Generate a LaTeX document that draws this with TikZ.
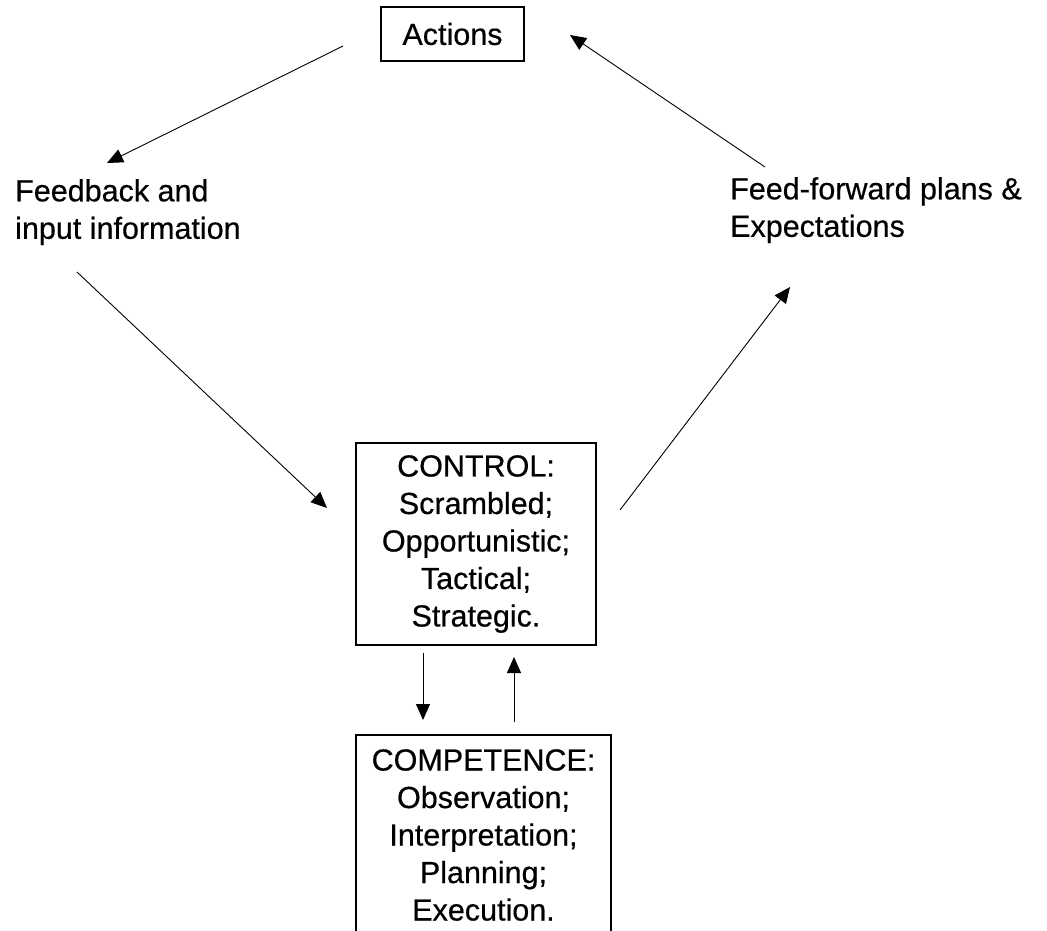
\documentclass[tikz,border=0pt]{standalone}
\usepackage{fontspec}
\newfontfamily\lblfont{Liberation Sans}[FakeBold=0.5]
\usetikzlibrary{arrows.meta}
\begin{document}
\begin{tikzpicture}[x=1pt,y=-1pt,
  labelfont/.style={font=\lblfont\fontsize{30.5}{37.5}\selectfont},
  box/.style={draw,line width=1.3pt,inner sep=0pt,align=center,labelfont},
  plain/.style={inner sep=0pt,align=left,labelfont},
  link/.style={line width=0.9pt,-{Triangle[length=16pt,width=14pt]}}]
  \useasboundingbox (0,0) rectangle (1047,930);

  % boxes
  \node[box,minimum width=143pt,minimum height=54pt] (act) at (452.5,34) {Actions};
  \node[box,minimum width=240pt,minimum height=202pt] (ctrl) at (476,544)
    {CONTROL:\\Scrambled;\\Opportunistic;\\Tactical;\\Strategic.};
  \node[box,minimum width=255pt,minimum height=200pt] (comp) at (483.5,835)
    {COMPETENCE:\\Observation;\\Interpretation;\\Planning;\\Execution.};

  % free-standing labels
  \node[plain,anchor=north west] (fb) at (15,179) {Feedback and\\input information};
  \node[plain,anchor=north west] (ff) at (730,177) {Feed-forward plans \&\\Expectations};

  % connector end points
  \coordinate (a1s) at (343,46);   \coordinate (a1e) at (107,163);
  \coordinate (a2s) at (77,272);   \coordinate (a2e) at (327,508);
  \coordinate (a3s) at (620,510);  \coordinate (a3e) at (790,287);
  \coordinate (a4s) at (765,167);  \coordinate (a4e) at (570,35);
  \coordinate (d1s) at (423,653);  \coordinate (d1e) at (423,720);
  \coordinate (u1s) at (514,722);  \coordinate (u1e) at (514,657);

  % the cycle
  \draw[link] (a1s) -- (a1e);
  \draw[link] (a2s) -- (a2e);
  \draw[link] (a3s) -- (a3e);
  \draw[link] (a4s) -- (a4e);
  % control <-> competence
  \draw[link] (d1s) -- (d1e);
  \draw[link] (u1s) -- (u1e);
\end{tikzpicture}
\end{document}
